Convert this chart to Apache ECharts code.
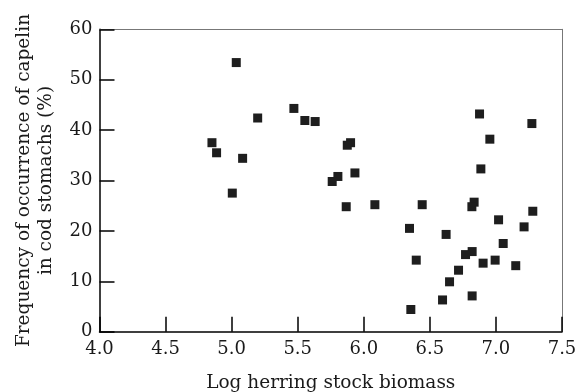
<!DOCTYPE html>
<html>
<head>
<meta charset="utf-8">
<script src="https://cdn.jsdelivr.net/npm/echarts@6/dist/echarts.min.js"></script>
<style>
  html, body { margin: 0; padding: 0; background: #fff; }
  #chart { width: 579px; height: 392px; }
</style>
</head>
<body>
<div id="chart"></div>
<script>
// log herring stock biomass (x) vs capelin frequency in cod stomachs, % (y)
var logBiomass = [5.035, 5.197, 4.851, 4.886, 5.083, 5.005, 5.471, 5.554, 5.632,
    5.900, 5.875, 5.933, 5.804, 5.761, 5.867, 6.084,
    6.876, 7.272, 6.954, 6.886, 6.442, 6.835, 6.818, 7.279, 7.020, 7.213,
    6.346, 6.623, 7.055, 6.820, 6.770, 6.397, 6.994, 6.903, 7.150, 6.717,
    6.649, 6.596, 6.820, 6.356];
var capelinPct = [53.4, 42.4, 37.5, 35.5, 34.4, 27.5, 44.3, 41.9, 41.7,
    37.5, 37.0, 31.5, 30.8, 29.8, 24.8, 25.2,
    43.2, 41.3, 38.2, 32.3, 25.2, 25.7, 24.8, 23.9, 22.2, 20.8,
    20.5, 19.3, 17.5, 15.9, 15.3, 14.2, 14.2, 13.6, 13.1, 12.2,
    9.9, 6.3, 7.1, 4.4];

var points = [];
for (var i = 0; i < logBiomass.length; i++) {
    points.push([logBiomass[i], capelinPct[i]]);
}

var serif = '"DejaVu Serif", "Liberation Serif", serif';
var ink = '#000';

// plain gray line for the top / right side of the frame
function frameAxis(pos, range) {
    return {
        type: 'value', position: pos, min: range[0], max: range[1],
        axisLine: { show: true, onZero: false, lineStyle: { color: '#777', width: 1 } },
        axisTick: { show: false }, axisLabel: { show: false }, splitLine: { show: false }
    };
}

var chart = echarts.init(document.getElementById('chart'));
chart.setOption({
    animation: false,
    grid: { left: 99.5, right: 17, top: 29.3, bottom: 60.3, outerBoundsMode: 'none' },
    xAxis: [{
        type: 'value', min: 4.0, max: 7.5, interval: 0.5,
        name: 'Log herring stock biomass',
        nameLocation: 'middle', nameGap: 42,
        nameTextStyle: { fontFamily: serif, fontSize: 18.5, color: '#1a1a1a' },
        axisLine: { show: true, lineStyle: { color: ink, width: 1.5 } },
        axisTick: { show: true, inside: true, length: 15, lineStyle: { color: ink, width: 1.5 } },
        axisLabel: {
            fontFamily: serif, fontSize: 18, color: '#1a1a1a', margin: 9,
            formatter: function (v) { return v.toFixed(1); }
        },
        splitLine: { show: false }
    }, frameAxis('top', [4.0, 7.5])],
    yAxis: [{
        type: 'value', min: 0, max: 60, interval: 10,
        name: 'Frequency of occurrence of capelin\nin cod stomachs (%)',
        nameLocation: 'middle', nameGap: 42,
        nameTextStyle: { fontFamily: serif, fontSize: 18.5, color: '#1a1a1a', lineHeight: 22 },
        axisLine: { show: true, lineStyle: { color: ink, width: 1.5 } },
        axisTick: { show: true, inside: true, length: 15, lineStyle: { color: ink, width: 1.5 } },
        axisLabel: { fontFamily: serif, fontSize: 18, color: '#1a1a1a', margin: 7 },
        splitLine: { show: false }
    }, frameAxis('right', [0, 60])],
    series: [{
        type: 'scatter',
        symbol: 'rect',
        symbolSize: 9,
        itemStyle: { color: '#1e1e1e', opacity: 1 },
        data: points
    }]
});
</script>
</body>
</html>
